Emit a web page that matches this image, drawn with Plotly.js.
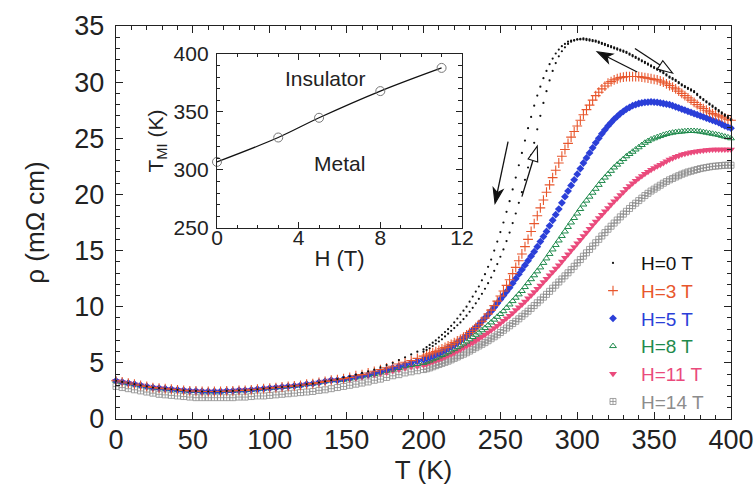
<!DOCTYPE html>
<html>
<head>
<meta charset="utf-8">
<script src="https://cdn.plot.ly/plotly-3.0.1.min.js"></script>
<style>html,body{margin:0;padding:0;background:#fff;}#chart{width:755px;height:492px;}</style>
</head>
<body>
<div id="chart"></div>
<script>
// Temperature grids (K)
const T_low = [0,4,8,12,16,20,24,28,32,36,40,44,48,52,56,60,64,68,72,76,80,84,88,92,96,100,104,108,112,116,120,124,128,132,136,140,144,148,152,156,160,164,168,172,176,180,184,188,192,196];
const T_high = [200,202,204,206,208,210,212,214,216,218,220,222,224,226,228,230,232,234,236,238,240,242,244,246,248,250,252,254,256,258,260,262,264,266,268,270,272,274,276,278,280,282,284,286,288,290,292,294,296,298,300,302,304,306,308,310,312,314,316,318,320,322,324,326,328,330,332,334,336,338,340,342,344,346,348,350,352,354,356,358,360,362,364,366,368,370,372,374,376,378,380,382,384,386,388,390,392,394,396,398,400];
const T = T_low.concat(T_high);

// shared low-temperature part (0-140 K)
const rho_low = [3.4,3.3,3.2,3.1,3.0,2.9,2.8,2.75,2.7,2.65,2.6,2.55,2.5,2.5,2.45,2.45,2.45,2.45,2.5,2.5,2.55,2.55,2.6,2.65,2.7,2.75,2.8,2.85,2.9,2.95,3.0,3.1,3.15,3.25,3.35,3.45];

const rho_H0_cool = rho_low.concat([3.55,3.7,3.8,3.95,4.1,4.25,4.4,4.6,4.8,5.0,5.25,5.5,5.75,6.0,
 6.2,6.4,6.6,6.8,7.0,7.25,7.5,7.75,8.0,8.3,8.6,8.95,9.3,9.65,10.0,10.45,10.9,11.35,11.8,12.35,
 12.9,13.55,14.2,15.0,15.8,16.65,17.5,18.45,19.4,20.45,21.5,22.6,23.7,24.8,25.9,26.9,27.9,28.8,29.6,30.35,
 31.0,31.6,32.1,32.55,32.9,33.2,33.4,33.6,33.7,33.75,33.8,33.8,33.8,33.75,33.7,33.65,33.6,33.5,33.4,33.3,
 33.2,33.1,33.0,32.9,32.8,32.7,32.6,32.45,32.3,32.15,32.0,31.85,31.7,31.55,31.4,31.25,31.1,30.95,30.8,30.6,
 30.4,30.25,30.1,29.9,29.7,29.55,29.4,29.25,29.1,28.85,28.6,28.4,28.2,28.0,27.8,27.6,27.4,27.2,27.0,26.8,26.6]);
const rho_H0_warm = [6.0,6.15,6.3,6.5,6.7,6.9,7.1,7.35,7.6,7.85,8.1,8.35,8.6,8.9,9.2,9.55,9.9,10.3,10.7,11.15,
 11.6,12.1,12.6,13.2,13.8,14.45,15.1,15.85,16.6,17.45,18.3,19.25,20.2,21.3,22.4,23.5,24.6,25.8,27.0,28.15,
 29.2,30.15,31.0,31.7,32.3,32.75,33.1,33.4,33.6,33.7,33.8,33.85,33.9,33.85,33.8,33.75,33.7,33.6,33.5,33.4,
 33.3,33.2,33.1,33.0,32.9,32.8,32.7,32.55,32.4,32.25,32.1,31.95,31.8,31.65,31.5,31.35,31.2,31.05,30.9,30.7,
 30.5,30.35,30.2,30.0,29.8,29.65,29.5,29.35,29.2,28.95,28.7,28.5,28.3,28.1,27.9,27.7,27.5,27.3,27.1,26.9,26.7];
const rho_H3 = rho_low.concat([3.5,3.6,3.7,3.85,3.95,4.1,4.25,4.4,4.55,4.7,4.9,5.05,5.2,5.4,
 5.6,5.7,5.8,5.9,6.0,6.12,6.25,6.37,6.5,6.65,6.8,6.95,7.1,7.3,7.5,7.7,7.9,8.15,8.4,8.7,
 9.0,9.35,9.7,10.1,10.5,10.95,11.4,11.9,12.4,12.95,13.5,14.1,14.7,15.35,16.0,16.7,17.4,18.1,18.8,19.5,
 20.2,20.85,21.5,22.15,22.8,23.4,24.0,24.55,25.1,25.6,26.1,26.6,27.1,27.55,27.95,28.4,28.8,29.1,29.4,29.65,
 29.9,30.05,30.2,30.3,30.4,30.45,30.5,30.5,30.5,30.5,30.5,30.45,30.4,30.35,30.3,30.25,30.2,30.1,30.0,29.85,
 29.7,29.55,29.4,29.2,29.0,28.8,28.6,28.4,28.2,28.0,27.8,27.65,27.5,27.35,27.2,27.1,27.0,26.9,26.8,26.7,26.6]);
const rho_H5 = rho_low.concat([3.45,3.55,3.65,3.75,3.85,3.95,4.1,4.25,4.4,4.55,4.7,4.85,5.0,5.15,
 5.3,5.4,5.5,5.62,5.75,5.87,6.0,6.15,6.3,6.45,6.6,6.8,7.0,7.2,7.4,7.65,7.9,8.15,8.4,8.7,
 9.0,9.3,9.6,9.95,10.3,10.65,11.0,11.35,11.7,12.1,12.5,12.9,13.3,13.7,14.1,14.5,14.9,15.35,15.8,16.25,
 16.7,17.2,17.7,18.2,18.7,19.25,19.8,20.3,20.8,21.3,21.8,22.3,22.8,23.25,23.7,24.15,24.6,25.0,25.4,25.75,
 26.1,26.4,26.7,26.95,27.2,27.4,27.6,27.75,27.9,28.0,28.1,28.15,28.2,28.22,28.25,28.22,28.2,28.15,28.1,28.05,
 28.0,27.9,27.8,27.7,27.6,27.5,27.4,27.3,27.2,27.1,27.0,26.9,26.8,26.7,26.6,26.5,26.4,26.25,26.1,26.0,25.9]);
const rho_H8 = rho_low.concat([3.45,3.5,3.6,3.7,3.8,3.9,4.0,4.15,4.3,4.4,4.55,4.7,4.8,4.9,
 5.0,5.1,5.2,5.32,5.45,5.57,5.7,5.82,5.95,6.1,6.25,6.4,6.55,6.72,6.9,7.1,7.3,7.5,7.7,7.9,
 8.1,8.35,8.6,8.85,9.1,9.35,9.6,9.9,10.2,10.5,10.8,11.1,11.4,11.75,12.1,12.45,12.8,13.15,13.5,13.9,
 14.3,14.7,15.1,15.5,15.9,16.3,16.7,17.1,17.5,17.9,18.3,18.7,19.1,19.45,19.8,20.15,20.5,20.85,21.2,21.5,
 21.8,22.1,22.4,22.65,22.9,23.15,23.4,23.6,23.8,24.0,24.2,24.4,24.6,24.75,24.9,25.0,25.1,25.2,25.3,25.38,
 25.45,25.5,25.55,25.58,25.6,25.63,25.65,25.65,25.65,25.63,25.6,25.55,25.5,25.45,25.4,25.35,25.3,25.22,25.15,25.08,25.0]);
const rho_H11 = rho_low.concat([3.45,3.5,3.55,3.65,3.75,3.85,3.95,4.05,4.15,4.3,4.4,4.55,4.65,4.7,
 4.8,4.9,5.0,5.1,5.2,5.3,5.4,5.52,5.65,5.77,5.9,6.05,6.2,6.35,6.5,6.65,6.8,6.97,7.15,7.32,
 7.5,7.7,7.9,8.1,8.3,8.52,8.75,8.97,9.2,9.45,9.7,9.95,10.2,10.47,10.75,11.02,11.3,11.6,11.9,12.2,
 12.5,12.8,13.1,13.4,13.7,14.02,14.35,14.67,15.0,15.32,15.65,15.97,16.3,16.62,16.95,17.27,17.6,17.9,18.2,18.5,
 18.8,19.1,19.4,19.67,19.95,20.22,20.5,20.75,21.0,21.22,21.45,21.65,21.85,22.02,22.2,22.35,22.5,22.65,22.8,22.95,
 23.1,23.22,23.35,23.45,23.55,23.62,23.7,23.75,23.8,23.85,23.9,23.92,23.95,23.97,24.0,24.0,24.0,24.0,24.0,24.0,24.0]);
const rho_H14 = [2.9,2.8,2.7,2.6,2.5,2.4,2.3,2.2,2.15,2.1,2.05,2.0,1.95,1.9,1.9,1.9,1.9,1.9,1.9,1.9,
 1.95,1.95,2.0,2.05,2.05,2.1,2.15,2.2,2.25,2.3,2.35,2.4,2.45,2.55,2.6,2.7,2.8,2.9,3.0,3.1,
 3.2,3.3,3.45,3.55,3.7,3.85,3.95,4.1,4.2,4.3,
 4.4,4.47,4.55,4.65,4.75,4.85,4.95,5.05,5.15,5.27,5.4,5.52,5.65,5.77,5.9,6.05,6.2,6.35,6.5,6.65,
 6.8,6.97,7.15,7.32,7.5,7.7,7.9,8.1,8.3,8.5,8.7,8.92,9.15,9.37,9.6,9.85,10.1,10.35,10.6,10.85,
 11.1,11.37,11.65,11.92,12.2,12.47,12.75,13.02,13.3,13.6,13.9,14.2,14.5,14.8,15.1,15.4,15.7,16.0,16.3,16.6,
 16.9,17.17,17.45,17.72,18.0,18.25,18.5,18.75,19.0,19.22,19.45,19.67,19.9,20.1,20.3,20.47,20.65,20.82,21.0,21.15,
 21.3,21.42,21.55,21.67,21.8,21.9,22.0,22.07,22.15,22.22,22.3,22.35,22.4,22.45,22.5,22.52,22.55,22.57,22.6,22.6,22.6];

// Inset: metal-insulator transition temperature vs field
const H_inset = [0,3,5,8,11];
const TMI_inset = [307,328,345,368,388];

// legend labels & colours
const labels = ['H=0 T','H=3 T','H=5 T','H=8 T','H=11 T','H=14 T'];
const colors = ['#111111','#e8562c','#2b3fd8','#1f8a4c','#ea4a7c','#8c8c8c'];

function lab(i){ return '<span style="color:'+colors[i]+'">'+labels[i]+'</span>'; }

const traces = [
 {x:T, y:rho_H14, type:'scatter', mode:'markers', name:lab(5), legendrank:6,
  marker:{symbol:'square-cross-open', size:6, color:colors[5], line:{width:0.8}}, cliponaxis:false},
 {x:T, y:rho_H11, type:'scatter', mode:'markers', name:lab(4), legendrank:5,
  marker:{symbol:'triangle-down', size:7, color:colors[4]}, cliponaxis:false},
 {x:T, y:rho_H8, type:'scatter', mode:'markers', name:lab(3), legendrank:4,
  marker:{symbol:'triangle-up-open', size:6, color:colors[3], line:{width:1}}, cliponaxis:false},
 {x:T, y:rho_H5, type:'scatter', mode:'markers', name:lab(2), legendrank:3,
  marker:{symbol:'diamond', size:6, color:colors[2]}, cliponaxis:false},
 {x:T, y:rho_H3, type:'scatter', mode:'markers', name:lab(1), legendrank:2,
  marker:{symbol:'cross-thin-open', size:7, color:colors[1], line:{width:1.1, color:colors[1]}}, cliponaxis:false},
 {x:T, y:rho_H0_cool, type:'scatter', mode:'markers', name:lab(0), legendrank:1,
  marker:{symbol:'circle', size:2.2, color:colors[0]}, cliponaxis:false},
 {x:T_high, y:rho_H0_warm, type:'scatter', mode:'markers', showlegend:false,
  marker:{symbol:'circle', size:2.2, color:colors[0]}, cliponaxis:false},
 {x:H_inset, y:TMI_inset, xaxis:'x2', yaxis:'y2', type:'scatter', mode:'lines+markers', showlegend:false,
  line:{shape:'spline', color:'#111', width:1.2},
  marker:{symbol:'circle-open', size:9, color:'#777', line:{width:1}}, cliponaxis:false}
];

// arrow helpers (pixel scale of main axes)
const PX = 615/400, PY = 393/35;
function arrowShapes(tail, tip, filled){
  const dx = (tip[0]-tail[0])*PX, dy = (tip[1]-tail[1])*PY;
  const L = Math.hypot(dx,dy), ux = dx/L, uy = dy/L, nx = -uy, ny = ux;
  const hl = 15, hw = 5, back = filled ? 4 : 0;
  const toD = (px,py)=>[tip[0]+px/PX, tip[1]+py/PY];
  const b1 = toD(-ux*hl+nx*hw, -uy*hl+ny*hw);
  const b2 = toD(-ux*hl-nx*hw, -uy*hl-ny*hw);
  const bm = toD(-ux*(hl-back), -uy*(hl-back));
  const lineEnd = filled ? bm : toD(-ux*hl, -uy*hl);
  const out = [{type:'line', xref:'x', yref:'y', x0:tail[0], y0:tail[1], x1:lineEnd[0], y1:lineEnd[1], line:{color:'#111', width:1.3}}];
  const path = 'M'+tip[0]+','+tip[1]+' L'+b1[0]+','+b1[1]+' L'+bm[0]+','+bm[1]+' L'+b2[0]+','+b2[1]+' Z';
  out.push({type:'path', xref:'x', yref:'y', path:path, fillcolor: filled ? '#111' : '#fff', line:{color:'#111', width:1.1}});
  return out;
}
const shapes = [].concat(
  arrowShapes([255,24.7],[246.5,19.2], true),
  arrowShapes([264,19.8],[274,24.3], false),
  arrowShapes([339,30.9],[313,32.7], true),
  arrowShapes([337.5,33.0],[362,30.8], false)
);

const axCommon = {ticks:'inside', tickcolor:'#222', tickwidth:1, showline:true, linecolor:'#222', linewidth:1.2,
  mirror:'ticks', showgrid:false, zeroline:false};

const layout = {
  width:755, height:492,
  margin:{l:116, r:24, t:26, b:73},
  paper_bgcolor:'#fff', plot_bgcolor:'#fff',
  font:{family:'Liberation Sans, Arial, Helvetica, sans-serif', color:'#222', size:26},
  xaxis:Object.assign({}, axCommon, {range:[0,400], tick0:0, dtick:50, ticklen:7, tickfont:{size:27}, ticklabelstandoff:-4,
    minor:{dtick:10, ticks:'inside', ticklen:4, tickcolor:'#222', showgrid:false},
    title:{text:'T (K)', font:{size:26}, standoff:4}}),
  yaxis:Object.assign({}, axCommon, {range:[0,35], tick0:0, dtick:5, ticklen:7, tickfont:{size:27}, ticklabelstandoff:5,
    minor:{dtick:1, ticks:'inside', ticklen:4, tickcolor:'#222', showgrid:false},
    title:{text:'ρ (mΩ cm)', font:{size:26}, standoff:22}}),
  xaxis2:Object.assign({}, axCommon, {domain:[0.1642,0.5626], anchor:'y2', range:[0,12], tick0:0, dtick:4, ticklen:6,
    tickfont:{size:21}, ticklabelstandoff:-9, minor:{dtick:1, ticks:'inside', ticklen:3.5, tickcolor:'#222', showgrid:false},
    title:{text:'H (T)', font:{size:22}, standoff:2}}),
  yaxis2:Object.assign({}, axCommon, {domain:[0.486,0.9288], anchor:'x2', range:[250,400], tick0:250, dtick:50, ticklen:6,
    tickfont:{size:21}, ticklabelstandoff:3, minor:{dtick:10, ticks:'inside', ticklen:3.5, tickcolor:'#222', showgrid:false},
    title:{text:'T<sub>MI</sub> (K)', font:{size:21}, standoff:4}}),
  legend:{x:0.7626, xanchor:'left', y:0.445, yanchor:'top', bgcolor:'rgba(0,0,0,0)', font:{size:19}, tracegroupgap:0, itemwidth:46},
  shapes:shapes,
  annotations:[
    {xref:'x2', yref:'y2', x:5.3, y:378.7, text:'Insulator', showarrow:false, font:{size:21, color:'#222'}},
    {xref:'x2', yref:'y2', x:6.0, y:306, text:'Metal', showarrow:false, font:{size:21, color:'#222'}}
  ]
};

Plotly.newPlot('chart', traces, layout, {displayModeBar:false, staticPlot:true});
</script>
</body>
</html>
